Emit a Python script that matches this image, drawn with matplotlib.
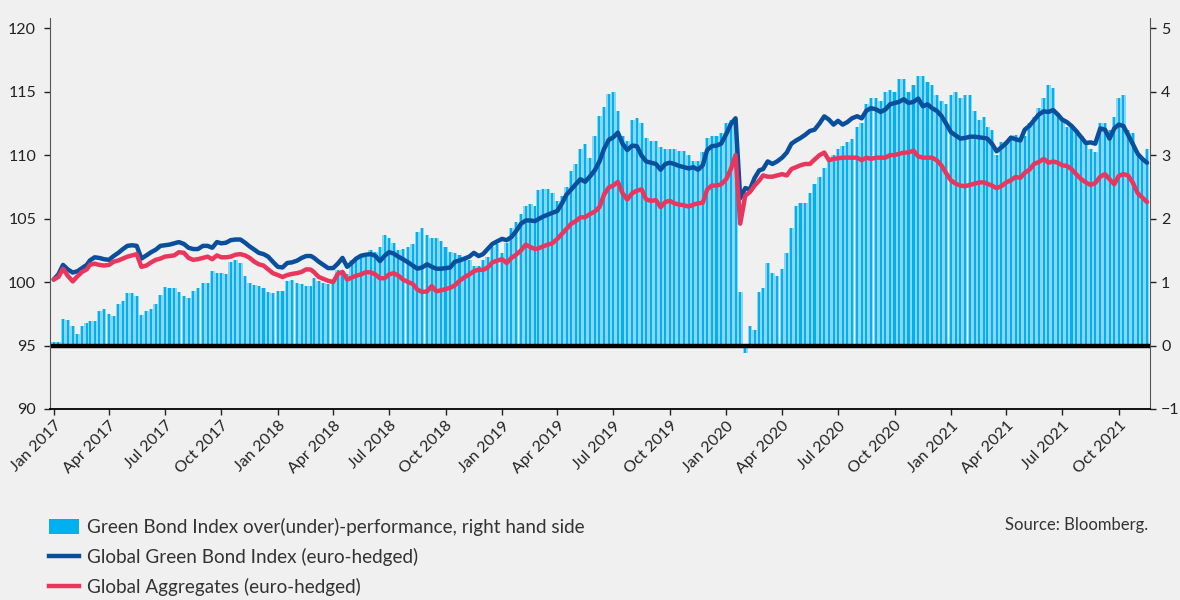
import matplotlib
matplotlib.use("Agg")
import matplotlib.pyplot as plt
import matplotlib.dates as mdates
from matplotlib.lines import Line2D
from matplotlib.patches import Patch
import pandas as pd

# Weekly readings, four per month (last year stops mid-November)
YEARS = [2017, 2018, 2019, 2020, 2021]

green_index = {
    2017: [100.2, 100.6, 101.35, 101.0, 100.75, 100.85, 101.1, 101.35,
           101.7, 101.95, 101.9, 101.8, 101.75, 102.05, 102.3, 102.6,
           102.85, 102.9, 102.85, 101.85, 102.1, 102.35, 102.55, 102.85,
           102.9, 102.95, 103.05, 103.15, 103.0, 102.7, 102.6, 102.6,
           102.85, 102.85, 102.7, 103.15, 103.05, 103.1, 103.3, 103.35,
           103.35, 103.1, 102.8, 102.55, 102.3, 102.2, 102.0, 101.6],
    2018: [101.2, 101.15, 101.5, 101.55, 101.68, 101.9, 102.05, 102.05,
           101.9, 101.6, 101.35, 101.1, 101.1, 101.45, 101.9, 101.2,
           101.5, 101.85, 102.07, 102.15, 102.2, 102.07, 101.65, 102.07,
           102.35, 102.25, 102.0, 101.8, 101.55, 101.3, 101.05, 101.15,
           101.4, 101.2, 101.05, 101.05, 101.1, 101.15, 101.6, 101.7,
           101.85, 102.0, 102.3, 102.05, 102.2, 102.6, 103.0, 103.2],
    2019: [103.4, 103.3, 103.55, 104.0, 104.6, 104.85, 104.85, 104.8,
           104.95, 105.15, 105.3, 105.45, 105.6, 106.2, 106.9, 107.3,
           107.7, 108.1, 107.9, 108.3, 108.8, 109.5, 110.5, 111.2,
           111.4, 111.77, 110.9, 110.4, 110.75, 110.7, 109.96, 109.5,
           109.4, 109.3, 108.85, 109.3, 109.4, 109.3, 109.15, 109.05,
           108.95, 109.05, 108.85, 109.2, 110.4, 110.7, 110.75, 110.9],
    2020: [111.65, 112.45, 112.9, 106.6, 107.4, 107.3, 108.2, 108.8,
           108.9, 109.5, 109.3, 109.5, 109.8, 110.2, 110.9, 111.15,
           111.35, 111.6, 111.9, 112.0, 112.5, 113.05, 112.8, 112.4,
           112.7, 112.4, 112.6, 112.9, 113.06, 112.9, 113.5, 113.7,
           113.6, 113.4, 113.6, 114.0, 114.1, 114.2, 114.4, 114.1,
           114.2, 114.45, 113.85, 114.0, 113.7, 113.5, 113.1, 112.5],
    2021: [111.8, 111.55, 111.3, 111.35, 111.45, 111.45, 111.4, 111.35,
           111.3, 110.9, 110.3, 110.6, 110.95, 111.38, 111.25, 111.15,
           112.0, 112.3, 112.75, 113.19, 113.45, 113.4, 113.55, 113.2,
           112.8, 112.6, 112.3, 111.9, 111.4, 110.95, 111.0, 110.9,
           112.1, 112.0, 111.3, 112.1, 112.4, 112.3, 111.6, 110.9,
           110.1, 109.7, 109.4],
}

aggregates = {
    2017: [100.2, 100.4, 101.05, 100.5, 100.05, 100.45, 100.8, 101.0,
           101.35, 101.45, 101.35, 101.3, 101.35, 101.6, 101.7, 101.85,
           102.0, 102.1, 102.2, 101.2, 101.3, 101.55, 101.75, 101.85,
           102.0, 102.05, 102.1, 102.35, 102.3, 101.9, 101.75, 101.8,
           101.9, 102.0, 101.8, 102.1, 101.95, 101.95, 102.0, 102.15,
           102.2, 102.1, 101.9, 101.6, 101.4, 101.3, 101.0, 100.7],
    2018: [100.55, 100.4, 100.55, 100.64, 100.7, 100.8, 101.0, 100.98,
           100.77, 100.4, 100.25, 100.1, 100.0, 100.64, 100.8, 100.2,
           100.35, 100.5, 100.6, 100.77, 100.77, 100.6, 100.3, 100.3,
           100.6, 100.7, 100.5, 100.2, 100.0, 99.85, 99.4, 99.22,
           99.27, 99.68, 99.27, 99.35, 99.45, 99.55, 99.74, 100.1,
           100.38, 100.6, 100.85, 100.98, 100.95, 101.15, 101.55, 101.68],
    2019: [101.8, 101.5, 101.9, 102.15, 102.5, 102.95, 102.75, 102.6,
           102.65, 102.8, 102.95, 103.05, 103.4, 103.8, 104.2, 104.6,
           104.8, 105.1, 105.1, 105.35, 105.55, 105.9, 106.9, 107.45,
           107.6, 107.89, 107.0, 106.5, 107.0, 107.2, 107.3, 106.5,
           106.4, 106.45, 105.9, 106.3, 106.4, 106.2, 106.1, 106.05,
           105.95, 106.1, 106.2, 106.25, 107.3, 107.6, 107.6, 107.7],
    2020: [108.1, 108.9, 110.0, 104.6, 106.8, 107.1, 107.6, 108.0,
           108.4, 108.3, 108.3, 108.4, 108.5, 108.4, 108.9, 109.05,
           109.2, 109.3, 109.3, 109.65, 110.0, 110.2, 109.6, 109.7,
           109.75, 109.8, 109.8, 109.8, 109.8, 109.6, 109.8, 109.7,
           109.8, 109.8, 109.8, 110.0, 110.0, 110.1, 110.2, 110.2,
           110.35, 109.9, 109.8, 109.8, 109.8, 109.6, 109.2, 108.6],
    2021: [108.0, 107.75, 107.6, 107.55, 107.65, 107.75, 107.85, 107.85,
           107.75, 107.6, 107.4, 107.55, 107.85, 108.02, 108.28, 108.2,
           108.6, 108.85, 109.3, 109.45, 109.7, 109.4, 109.5, 109.4,
           109.2, 109.15, 108.9, 108.5, 108.1, 107.85, 107.65, 107.8,
           108.3, 108.5, 108.1, 107.7, 108.35, 108.5, 108.4, 107.85,
           107.0, 106.65, 106.3],
}

# over(under)-performance, right hand axis
outperf = {
    2017: [0.05, 0.05, 0.42, 0.40, 0.30, 0.18, 0.31, 0.35,
           0.39, 0.39, 0.55, 0.57, 0.50, 0.47, 0.65, 0.70,
           0.83, 0.82, 0.78, 0.48, 0.55, 0.57, 0.66, 0.80,
           0.92, 0.90, 0.90, 0.85, 0.78, 0.75, 0.86, 0.90,
           0.99, 0.98, 1.17, 1.15, 1.14, 1.12, 1.32, 1.35,
           1.30, 1.10, 0.98, 0.95, 0.93, 0.90, 0.85, 0.83],
    2018: [0.86, 0.86, 1.02, 1.04, 0.99, 0.97, 0.93, 0.93,
           1.06, 1.02, 0.99, 0.97, 1.00, 1.19, 1.14, 1.12,
           1.35, 1.35, 1.43, 1.40, 1.50, 1.48, 1.56, 1.74,
           1.70, 1.61, 1.50, 1.52, 1.56, 1.60, 1.79, 1.85,
           1.74, 1.70, 1.69, 1.64, 1.55, 1.48, 1.45, 1.42,
           1.40, 1.35, 1.25, 1.25, 1.35, 1.40, 1.56, 1.60],
    2019: [1.45, 1.61, 1.85, 1.95, 2.08, 2.20, 2.23, 2.20,
           2.45, 2.47, 2.47, 2.40, 2.28, 2.35, 2.49, 2.75,
           2.86, 3.10, 3.17, 2.95, 3.30, 3.61, 3.76, 3.97,
           4.00, 3.69, 3.30, 3.22, 3.55, 3.58, 3.50, 3.27,
           3.22, 3.22, 3.12, 3.10, 3.09, 3.09, 3.06, 3.06,
           3.00, 2.91, 2.91, 3.05, 3.27, 3.30, 3.30, 3.35],
    2020: [3.50, 3.55, 3.50, 0.85, -0.12, 0.30, 0.25, 0.85,
           0.90, 1.30, 1.15, 1.10, 1.20, 1.45, 1.85, 2.20,
           2.25, 2.25, 2.40, 2.55, 2.65, 2.80, 2.95, 3.00,
           3.10, 3.15, 3.20, 3.25, 3.45, 3.50, 3.80, 3.90,
           3.90, 3.85, 4.00, 4.02, 4.00, 4.20, 4.20, 4.00,
           4.10, 4.25, 4.25, 4.15, 4.10, 3.95, 3.85, 3.80],
    2021: [3.95, 4.00, 3.90, 3.95, 3.95, 3.70, 3.55, 3.60,
           3.45, 3.40, 3.00, 3.20, 3.22, 3.30, 3.32, 3.27,
           3.30, 3.50, 3.60, 3.74, 3.90, 4.10, 4.05, 3.65,
           3.55, 3.45, 3.45, 3.40, 3.30, 3.20, 3.10, 3.05,
           3.50, 3.50, 3.40, 3.60, 3.90, 3.95, 3.40, 3.35,
           3.00, 2.95, 3.10],
}

LABEL_BARS = "Green Bond Index over(under)-performance, right hand side"
LABEL_GREEN = "Global Green Bond Index (euro-hedged)"
LABEL_AGG = "Global Aggregates (euro-hedged)"
SOURCE = "Source: Bloomberg."

BG = "#f0f0f0"
CYAN = "#00b0f0"
CYAN_LIGHT = "#8ad5f2"
BLUE = "#0a4f9c"
RED = "#e8365d"
TEXT = "#333333"


def weekly_dates(year, n):
    out = []
    for i in range(n):
        month, k = divmod(i, 4)
        out.append(pd.Timestamp(year, month + 1, 1) + pd.Timedelta(days=7.6 * k))
    return out


dates, green, agg, bars = [], [], [], []
for y in YEARS:
    dates += weekly_dates(y, len(green_index[y]))
    green += green_index[y]
    agg += aggregates[y]
    bars += outperf[y]

plt.rcParams["font.family"] = ["Lato", "DejaVu Sans"]

fig = plt.figure(figsize=(11.8, 6), dpi=100, facecolor=BG)
ax = fig.add_axes([50 / 1180, 1 - 409 / 600, 1100 / 1180, 391 / 600])
ax2 = ax.twinx()

# bars on the right axis (light underlay + darker stripes)
ax2.bar(dates, bars, width=7.6, color=CYAN_LIGHT, linewidth=0, zorder=1)
ax2.bar(dates, bars, width=3.4, color=CYAN, linewidth=0, zorder=2)
ax2.axhline(0, color="black", lw=3.2, zorder=3)

ax.plot(dates, green, color=BLUE, lw=3.2, solid_capstyle="round")
ax.plot(dates, agg, color=RED, lw=3.2, solid_capstyle="round")

ax.set_zorder(ax2.get_zorder() + 1)
ax.patch.set_visible(False)
ax2.set_facecolor(BG)

ax.set_ylim(90, 120.8)
ax2.set_ylim(-1, 5.16)
ax.set_yticks(range(90, 121, 5))
ax2.set_yticks(range(-1, 6))
ax.set_xlim(pd.Timestamp(2016, 12, 26), pd.Timestamp(2021, 11, 21))

ax.xaxis.set_major_locator(mdates.MonthLocator(bymonth=[1, 4, 7, 10]))
ax.xaxis.set_major_formatter(mdates.DateFormatter("%b %Y"))
for lbl in ax.get_xticklabels():
    lbl.set_rotation(45)
    lbl.set_ha("right")
    lbl.set_rotation_mode("anchor")

for a in (ax, ax2):
    a.spines["top"].set_visible(False)
    a.tick_params(labelsize=11.5, colors="#222222", length=4, width=1)
ax.spines["left"].set_color("#555555")
ax2.spines["right"].set_color("#555555")
ax.spines["bottom"].set_color("black")
ax.spines["bottom"].set_linewidth(1.3)
ax2.spines["bottom"].set_visible(False)
ax2.spines["left"].set_visible(False)
ax.spines["right"].set_visible(False)
ax.tick_params(axis="y", pad=6)
ax2.tick_params(axis="y", pad=4)
ax.tick_params(axis="x", pad=3)

handles = [
    Patch(facecolor=CYAN, edgecolor="none"),
    Line2D([], [], color=BLUE, lw=3.2),
    Line2D([], [], color=RED, lw=3.2),
]
leg = fig.legend(handles, [LABEL_BARS, LABEL_GREEN, LABEL_AGG],
                 loc="upper left", bbox_to_anchor=(32 / 1180, 1 - 501 / 600),
                 frameon=False, handlelength=1.6, handleheight=0.85,
                 handletextpad=0.4, labelspacing=0.62,
                 prop={"size": 13.6})
for t in leg.get_texts():
    t.set_color(TEXT)
fig.text(1148 / 1180, 1 - 525 / 600, SOURCE, ha="right", va="center",
         fontsize=12, color=TEXT)

fig.savefig("out.png", dpi=100, facecolor=BG)
